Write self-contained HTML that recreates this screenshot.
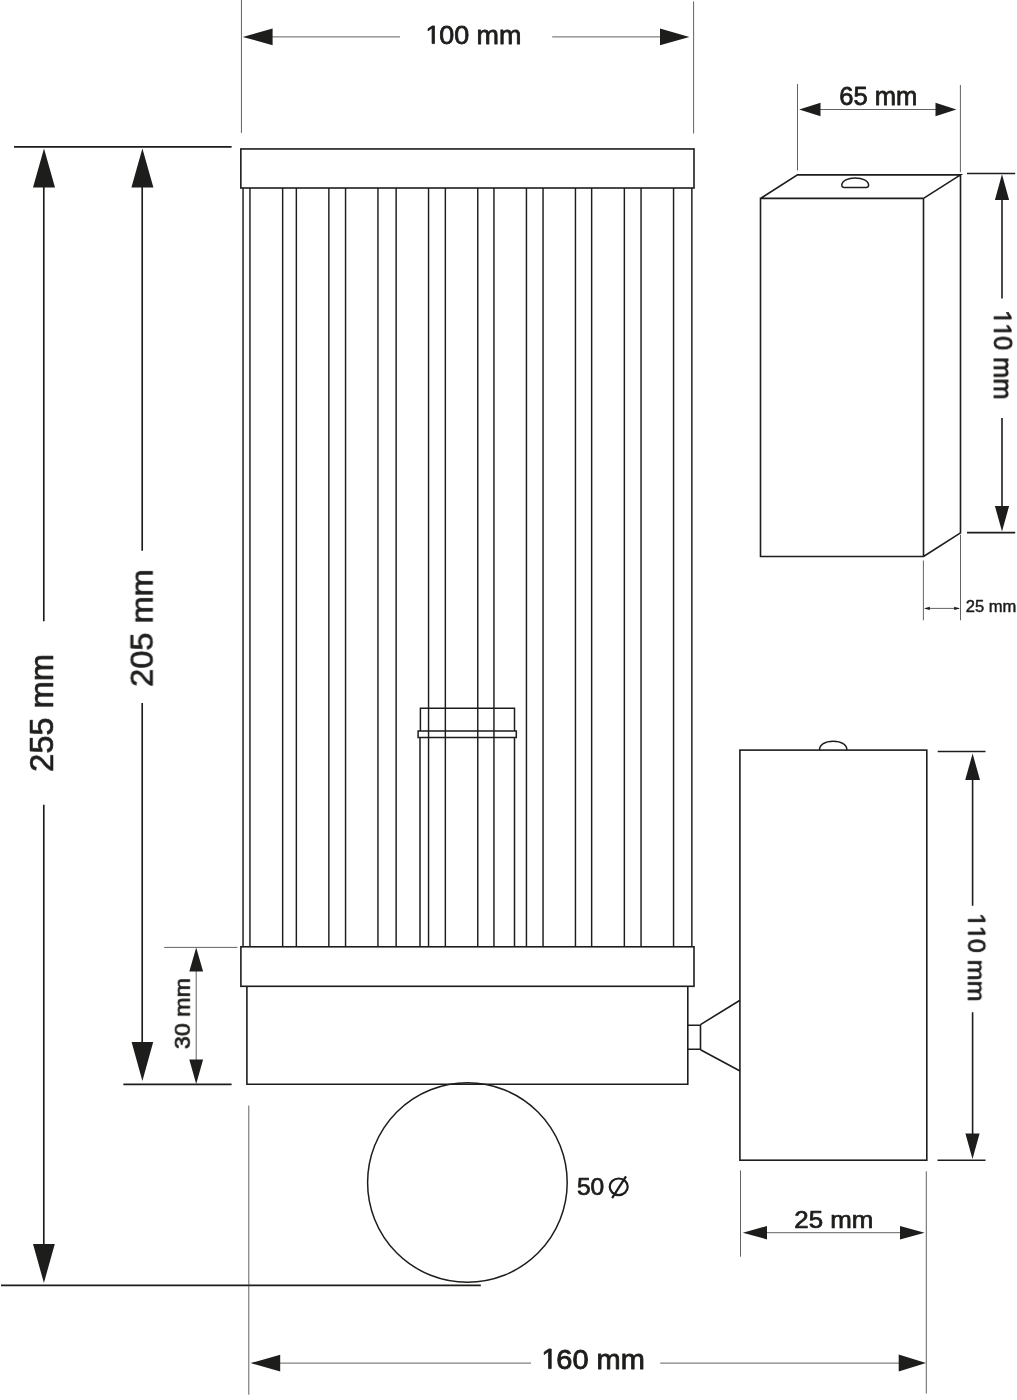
<!DOCTYPE html>
<html><head><meta charset="utf-8"><title>Dimensions</title>
<style>
html,body{margin:0;padding:0;background:#fff;}
body{width:1017px;height:1400px;overflow:hidden;font-family:"Liberation Sans",sans-serif;}
svg{display:block;}
</style></head><body>
<svg width="1017" height="1400" viewBox="0 0 1017 1400">
<rect width="1017" height="1400" fill="#fff"/>
<g fill="none" stroke="#1d1d1b" stroke-width="1.6" stroke-linecap="butt" stroke-linejoin="miter">
<path stroke-width="1.45" d="M243.05 188V946.8 M249.95 188V946.8 M282.65 188V946.8 M296.35 188V946.8 M328.85 188V946.8 M345.55 188V946.8 M377.95 188V946.8 M396.15 188V946.8 M428.55 188V946.8 M445.35 188V946.8 M477.75 188V946.8 M493.95 188V946.8 M526.45 188V946.8 M543.05 188V946.8 M575.45 188V946.8 M591.65 188V946.8 M624.35 188V946.8 M641.05 188V946.8 M673.55 188V946.8 M691.85 188V946.8"/>
<rect x="240.85" y="148.95" width="453.15" height="39.05"/>
<rect x="240.9" y="946.8" width="453.1" height="39.5"/>
<path d="M246.9 986.3V1084.2H687.8V986.3"/>
<path stroke-width="1.5" d="M420.4 731V708.3H514.5V731 M418.1 731H516.3V737.5H418.1Z M420 737.5V946.8 M514.5 737.5V946.8"/>
<path d="M687.7 1025.2H700.5V1049.2H687.7 M700.5 1024.6L740 1000.2 M700.5 1049.8L740 1071"/>
<circle cx="467.4" cy="1182.5" r="99.8" stroke-width="1.5"/>
<rect x="739.9" y="750.1" width="186.9" height="410.1"/>
<path stroke-width="1.5" d="M819.5 750.1C819.5 745 824.8 741.2 833.2 741.2C841.6 741.2 846.9 745 846.9 750.1"/>
<path d="M760.5 198.4H923.5V556.5H760.5Z M760.5 198.4L797.5 174.9H960.5L923.5 198.4 M960.5 174.9V532.8L923.5 556.5"/>
<path stroke-width="1.5" d="M844.2 187.5H866.2C867.9 187.5 868.7 186.4 868.6 185C868.3 180.6 862.6 177.9 855.2 177.9C847.8 177.9 842.1 180.6 841.8 185C841.7 186.4 842.5 187.5 844.2 187.5Z"/>
<path stroke-width="1.7" d="M14 146.8H231.6 M123.4 1084.3H231.6 M1 1285.3H480.8"/>
<path stroke-width="1.65" d="M43.8 186V621.3 M43.8 804.7V1246 M142.2 186V550.7 M142.2 703.1V1043"/>
<path stroke-width="1.6" d="M967 173.5H1015.2 M967 532.6H1015.2 M1002 198V298.5 M1002 418.1V506"/>
<path stroke-width="1.6" d="M937.7 751.5H985.5 M937.5 1160.2H985.5 M972.6 779V905.7 M972.6 1012.3V1134.5"/>
</g>
<g fill="none" stroke="#3a3a3a" stroke-width="0.8">
<path d="M241.45 0V132.9 M693.6 1.4V133.5 M271 36.9H400 M552.2 36.9H661"/>
<path d="M797.5 84V170.4 M960.4 85V172.2 M820 109.5H936"/>
<path d="M923.4 560.5V620.3 M960.5 534.7V620.3 M925 608.4H959"/>
<path d="M164.2 947.4H237.4 M196.2 971V1060"/>
<path d="M248.8 1105.5V1394.7 M926.3 1171.3V1393.5 M740.5 1170.4V1256.7"/>
<path d="M279.5 1363.1H531 M660.2 1363.1H899.5 M766.5 1232.7H900.3"/>
</g>
<path fill="#1d1d1b" d="M44.0 148.6L33.0 187.6L55.0 187.6Z M142.4 148.6L131.4 187.6L153.4 187.6Z M142.4 1081.0L153.2 1042.0L131.6 1042.0Z M43.9 1282.9L54.8 1244.1L33.0 1244.1Z M196.2 947.6L189.3 971.6L203.1 971.6Z M196.2 1083.9L203.1 1059.6L189.3 1059.6Z M242.7 36.9L272.6 45.2L272.6 28.6Z M689.4 36.9L660.0 28.6L660.0 45.2Z M799.2 109.5L820.5 116.2L820.5 102.8Z M956.4 109.5L935.5 102.8L935.5 116.2Z M1002.0 174.3L994.9 199.9L1009.1 199.9Z M1002.0 531.6L1009.1 506.0L994.9 506.0Z M972.6 753.6L965.2 780.0L980.0 780.0Z M972.5 1159.0L979.6 1133.6L965.4 1133.6Z M924.0 608.4L929.8 610.0L929.8 606.8Z M960.0 608.4L954.2 606.8L954.2 610.0Z M742.8 1232.7L767.0 1239.4L767.0 1226.0Z M924.6 1232.7L900.0 1226.0L900.0 1239.4Z M250.6 1363.1L280.2 1371.5L280.2 1354.7Z M926.0 1363.1L898.7 1354.6L898.7 1371.6Z"/>
<g opacity="0.999" fill="#1d1d1b" stroke="#1d1d1b" stroke-linejoin="round" font-family="'Liberation Sans', sans-serif">
<g transform="translate(424.24 43.56) scale(1.0511 1)" stroke-width="0.77"><path d="M7.46 0.00 7.46 -15.47 3.49 -12.63 3.49 -14.76 7.65 -17.62 9.73 -17.62 9.73 0.00Z"/><text x="14.24" font-size="25.61">00 mm</text></g>
<text transform="translate(839.18 104.67) scale(1.0089 1)" font-size="25.34" stroke-width="0.76">65 mm</text>
<g transform="translate(994.05 309.36) rotate(90) scale(1.0106 1)" stroke-width="0.80"><path d="M7.29 0.00 7.29 -15.10 3.40 -12.33 3.40 -14.40 7.47 -17.20 9.50 -17.20 9.50 0.00Z"/><path d="M19.94 0.00 19.94 -15.10 16.06 -12.33 16.06 -14.40 20.12 -17.20 22.15 -17.20 22.15 0.00Z"/><text x="26.56" font-size="25.00">0 mm</text></g>
<text transform="translate(965.82 611.61) scale(1.0539 1)" font-size="15.72" stroke-width="0.47">25 mm</text>
<g transform="translate(968.24 912.08) rotate(90) scale(1.0212 1)" stroke-width="0.79"><path d="M7.17 0.00 7.17 -14.86 3.35 -12.13 3.35 -14.17 7.35 -16.92 9.34 -16.92 9.34 0.00Z"/><path d="M19.62 0.00 19.62 -14.86 15.80 -12.13 15.80 -14.17 19.80 -16.92 21.79 -16.92 21.79 0.00Z"/><text x="26.13" font-size="24.59">0 mm</text></g>
<text transform="translate(794.29 1227.69) scale(1.0543 1)" font-size="24.53" stroke-width="0.74">25 mm</text>
<g transform="translate(540.19 1368.59) scale(1.0185 1)" stroke-width="0.85"><path d="M8.29 0.00 8.29 -17.19 3.88 -14.03 3.88 -16.40 8.50 -19.58 10.81 -19.58 10.81 0.00Z"/><text x="15.83" font-size="28.46">60 mm</text></g>
<text transform="translate(576.89 1194.58) scale(0.9956 1)" font-size="24.66" stroke-width="0.74">50</text>
<text transform="translate(189.81 1049.11) rotate(-90) scale(1.0244 1)" font-size="22.70" stroke-width="0.73">30 mm</text>
<text transform="translate(152.63 686.87) rotate(-90) scale(1.0259 1)" font-size="31.78" stroke-width="0.70">205 mm</text>
<text transform="translate(53.02 771.87) rotate(-90) scale(1.0094 1)" font-size="32.33" stroke-width="0.71">255 mm</text>
</g>
<g fill="none" stroke="#1d1d1b" stroke-width="2.2"><ellipse cx="618.7" cy="1186.8" rx="9" ry="8.3"/><path d="M612.1 1198.1L626 1176.3"/></g>
</svg>
</body></html>
